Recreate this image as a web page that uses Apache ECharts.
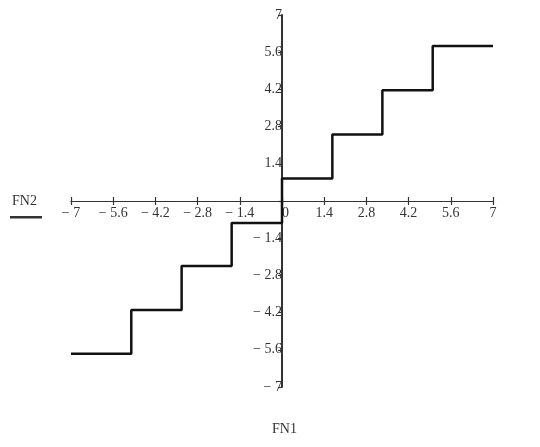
<!DOCTYPE html>
<html>
<head>
<meta charset="utf-8">
<script src="https://cdn.jsdelivr.net/npm/echarts@6/dist/echarts.min.js"></script>
<style>
  html, body { margin: 0; padding: 0; background: #fff; }
  #main { width: 540px; height: 447px; }
</style>
</head>
<body>
<div id="main"></div>
<script>
// staircase breakpoints (FN1) and levels (FN2)
var stepX = [-7, -5, -3.33, -1.67, 0, 1.67, 3.33, 5, 7]
var stepY = [-5.75, -4.1, -2.45, -0.83, 0.85, 2.5, 4.17, 5.83, 5.83]
var axisMin = -7
var axisMax = 7
var tickStep = 1.4

var gridL = 71, gridR = 47, gridT = 15, gridB = 60
var plotW = 540 - gridL - gridR
var plotH = 447 - gridT - gridB

var fmt = function (v) {
  var r = Math.round(v * 10) / 10
  if (r < 0) return '\u2212 ' + (-r)
  return '' + r
}

var labelFont = {
  fontFamily: 'Liberation Serif',
  fontSize: 14,
  color: '#333'
}

var chart = echarts.init(document.getElementById('main'))

var option = {
  animation: false,
  grid: { left: gridL, right: gridR, top: gridT, bottom: gridB },
  xAxis: [
    {
      type: 'value',
      min: axisMin,
      max: axisMax,
      interval: tickStep,
      position: 'bottom',
      offset: -plotH / 2,
      axisLine: { onZero: false, lineStyle: { color: '#333', width: 1.2 } },
      axisTick: { show: true, inside: false, length: 4, lineStyle: { color: '#333', width: 1.2 } },
      splitLine: { show: false },
      axisLabel: Object.assign({ margin: 5, formatter: function (v) {
        if (Math.abs(v) < 1e-9) return '  0'
        return fmt(v)
      } }, labelFont)
    },
    {
      // second set of ticks so they cross the line
      type: 'value',
      min: axisMin,
      max: axisMax,
      interval: tickStep,
      position: 'bottom',
      offset: -plotH / 2,
      axisLine: { show: false, onZero: false },
      axisTick: { show: true, inside: true, length: 4, lineStyle: { color: '#333', width: 1.2 } },
      splitLine: { show: false },
      axisLabel: { show: false }
    }
  ],
  yAxis: {
    type: 'value',
    min: axisMin,
    max: axisMax,
    interval: tickStep,
    position: 'left',
    offset: -plotW / 2,
    axisLine: { onZero: false, lineStyle: { color: '#333', width: 2 } },
    axisTick: { show: true, length: 4, lineStyle: { color: '#333', width: 1.2 } },
    splitLine: { show: false },
    axisLabel: Object.assign({ margin: 0, formatter: function (v) {
      if (Math.abs(v) < 1e-9) return ''
      return fmt(v)
    } }, labelFont)
  },
  graphic: [
    {
      type: 'text',
      left: 12,
      top: 194,
      style: { text: 'FN2', font: '14px "Liberation Serif"', fill: '#333' }
    },
    {
      type: 'rect',
      left: 10,
      top: 216,
      shape: { width: 32, height: 2.5 },
      style: { fill: '#333' }
    },
    {
      type: 'text',
      left: 272,
      top: 422,
      style: { text: 'FN1', font: '14px "Liberation Serif"', fill: '#333' }
    }
  ],
  series: [
    {
      type: 'line',
      step: 'end',
      showSymbol: false,
      lineStyle: { color: '#111', width: 2.5 },
      data: stepX.map(function (x, i) { return [x, stepY[i]] })
    }
  ]
}

chart.setOption(option)
</script>
</body>
</html>
